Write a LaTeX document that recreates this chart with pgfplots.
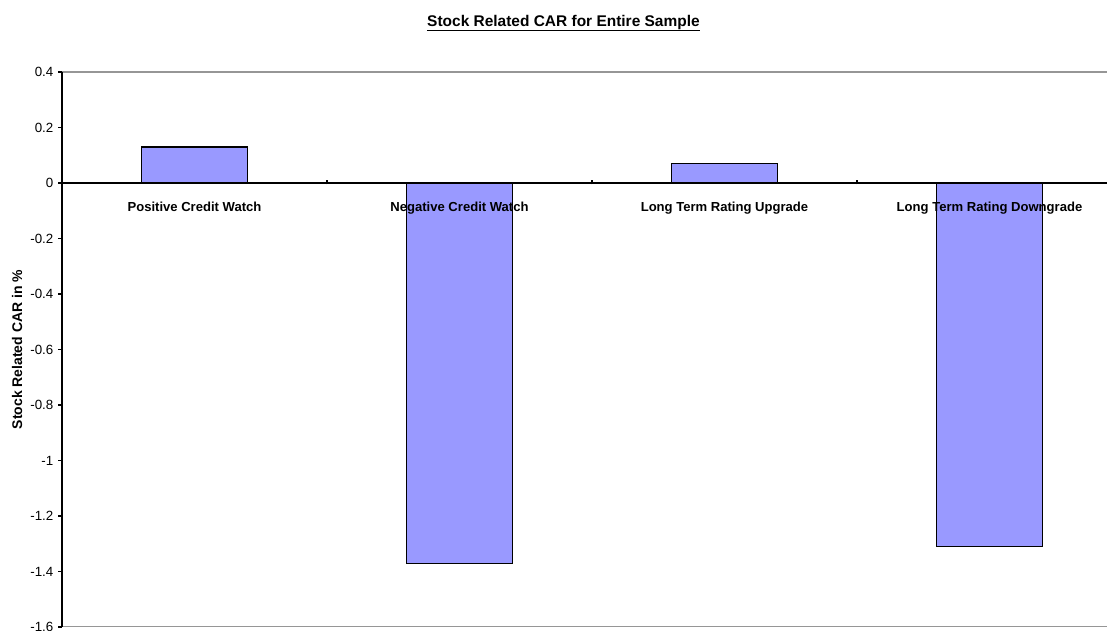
\documentclass[border=0pt]{standalone}
\usepackage{fontspec}
\setmainfont{Liberation Sans}
\usepackage{pgfplots}
\pgfplotsset{compat=1.18}
\definecolor{barfill}{RGB}{153,153,255}
\definecolor{framegray}{RGB}{150,150,150}

\begin{document}
\begin{tikzpicture}
\path[use as bounding box] (0,0) rectangle (830.25pt,473.25pt);
\clip (0,0) rectangle (830.25pt,473.25pt);
\begin{axis}[
  at={(46.5pt,3pt)}, anchor=south west,
  scale only axis, width=795pt, height=416.25pt,
  xmin=0, xmax=4, ymin=-1.6, ymax=0.4,
  axis on top,
  axis x line*=middle, axis y line*=left,
  axis line style={black, line width=0.8pt},
  xtick={1,2,3}, xticklabels={},
  xtick align=center,
  xtick style={yshift=2pt},
  extra x ticks={0.5,1.5,2.5,3.5},
  extra x tick labels={Positive Credit Watch,Negative Credit Watch,Long Term Rating Upgrade,Long Term Rating Downgrade},
  extra x tick style={major tick length=0pt, xticklabel style={yshift=-10.5pt}},
  xticklabel style={font=\fontsize{9.8}{11}\selectfont\bfseries, anchor=north},
  ytick={-1.6,-1.4,-1.2,-1,-0.8,-0.6,-0.4,-0.2,0,0.2,0.4},
  yticklabels={-1.6,-1.4,-1.2,-1,-0.8,-0.6,-0.4,-0.2,0,0.2,0.4},
  ytick align=outside,
  major tick length=3pt,
  tick style={black, line width=0.8pt},
  yticklabel style={font=\fontsize{10}{12}\selectfont},
  ybar, bar width=79.5pt,
]
\draw[framegray, line width=1.5pt] (rel axis cs:0,1) -- (rel axis cs:1,1);
\draw[framegray, line width=1.5pt] (rel axis cs:0,0) -- (rel axis cs:1,0);
\addplot[fill=barfill, draw=black, line width=0.9pt] coordinates {
  (0.5,0.13) (1.5,-1.37) (2.5,0.07) (3.5,-1.31)
};
\end{axis}
\node[font=\fontsize{11.6}{13}\selectfont\bfseries, inner sep=0pt] (title) at (422.6pt,456pt) {Stock Related CAR for Entire Sample};
\draw[line width=1.1pt] ([yshift=-2.6pt]title.base west) -- ([yshift=-2.6pt]title.base east);
\node[font=\fontsize{10.5}{12}\selectfont\bfseries, rotate=90] at (12.75pt,211.1pt) {Stock Related CAR in \%};
\end{tikzpicture}
\end{document}
